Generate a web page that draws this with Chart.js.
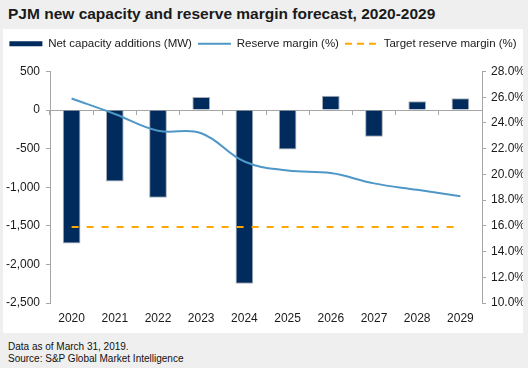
<!DOCTYPE html>
<html>
<head>
<meta charset="utf-8">
<script src="https://cdn.jsdelivr.net/npm/chart.js@4"></script>
<style>
  body { margin: 0; background: #efefef; width: 528px; height: 368px; overflow: hidden; font-family: "Liberation Sans", Arial, sans-serif; }
  #title { position: absolute; left: 8px; top: 5px; font-size: 15.5px; font-weight: bold; color: #1a1a1a; white-space: nowrap; }
  #panel { position: absolute; left: 3px; top: 29px; width: 520px; height: 304px; background: #fff; }
  #foot { position: absolute; left: 8px; top: 341px; font-size: 10px; line-height: 12px; color: #111; }
</style>
</head>
<body>
<div id="title">PJM new capacity and reserve margin forecast, 2020-2029</div>
<div id="panel"><canvas id="chart" width="520" height="304"></canvas></div>
<div id="foot">Data as of March 31, 2019.<br>Source: S&amp;P Global Market Intelligence</div>
<script>
// dados
const years = ['2020', '2021', '2022', '2023', '2024', '2025', '2026', '2027', '2028', '2029'];
const netCapacity = [-1730, -925, -1135, 170, -2250, -510, 187, -345, 114, 153];
const reserveMargin = [25.9, 24.7, 23.4, 23.2, 21.0, 20.3, 20.1, 19.3, 18.8, 18.3];
const targetMargin = [15.9, 15.9, 15.9, 15.9, 15.9, 15.9, 15.9, 15.9, 15.9, 15.9];

const axisGray = '#a6a6a6';
const tickFont = { family: '"Liberation Sans", Arial, sans-serif', size: 12 };

// espaço extra entre a legenda e a área do gráfico
const legendMargin = {
  id: 'legendMargin',
  beforeInit(chart) {
    const fit = chart.legend.fit;
    chart.legend.fit = function () {
      fit.bind(chart.legend)();
      this.height += 12;
    };
  }
};

const ctx = document.getElementById('chart').getContext('2d');
const chart = new Chart(ctx, {
  type: 'bar',
  data: {
    labels: years,
    datasets: [{
      type: 'bar',
      label: 'Net capacity additions (MW)',
      data: netCapacity,
      backgroundColor: '#002b5c',
      borderColor: '#a9aeb6',
      borderWidth: 1,
      categoryPercentage: 1,
      barPercentage: 0.41,
      pointStyle: 'rect',
      yAxisID: 'y',
      order: 2
    }, {
      type: 'line',
      label: 'Reserve margin (%)',
      data: reserveMargin,
      borderColor: '#4f97c7',
      backgroundColor: '#4f97c7',
      borderWidth: 2,
      pointRadius: 0,
      tension: 0.4,
      pointStyle: 'line',
      yAxisID: 'y2',
      order: 1
    }, {
      type: 'line',
      label: 'Target reserve margin (%)',
      data: targetMargin,
      borderColor: '#ffa600',
      backgroundColor: '#ffa600',
      borderWidth: 2,
      borderDash: [7, 8],
      pointRadius: 0,
      pointStyle: 'line',
      yAxisID: 'y2',
      order: 0
    }]
  },
  plugins: [legendMargin],
  options: {
    responsive: false,
    animation: false,
    layout: { padding: { top: 3, left: 0, right: 0, bottom: 0 } },
    plugins: {
      legend: {
        display: true,
        position: 'top',
        labels: {
          usePointStyle: true,
          pointStyleWidth: 33,
          boxHeight: 5,
          padding: 6,
          color: '#1a1a1a',
          font: { family: '"Liberation Sans", Arial, sans-serif', size: 11.5 },
          sort: (a, b) => a.datasetIndex - b.datasetIndex,
          // tracejado e espessura das linhas na legenda
          generateLabels: (chart) => Chart.defaults.plugins.legend.labels.generateLabels(chart).map(item => {
            const ds = chart.data.datasets[item.datasetIndex];
            if (ds.type === 'line') {
              item.lineDash = ds.borderDash ? [7, 5] : [];
              item.lineWidth = 2;
            } else {
              item.lineWidth = 0;
            }
            return item;
          })
        }
      },
      tooltip: { enabled: false }
    },
    scales: {
      x: {
        offset: true,
        grid: { display: false, drawTicks: false },
        border: { display: false },
        ticks: { color: '#1a1a1a', font: tickFont, padding: 8 },
        afterFit: (s) => { s.height = 30; }
      },
      x2: {
        type: 'category',
        position: { y: 0 },
        offset: true,
        grid: { offset: true, drawOnChartArea: false, drawTicks: true, tickLength: 4, color: axisGray },
        border: { display: true, color: axisGray },
        ticks: { display: false }
      },
      y: {
        position: 'left',
        min: -2500,
        max: 500,
        ticks: {
          stepSize: 500,
          color: '#1a1a1a',
          font: tickFont,
          padding: 6,
          callback: (v) => v.toLocaleString('en-US')
        },
        grid: { drawOnChartArea: false, drawTicks: true, tickLength: 4, color: axisGray },
        border: { color: axisGray },
        afterFit: (s) => { s.width = 47; }
      },
      y2: {
        position: 'right',
        min: 10,
        max: 28,
        ticks: {
          stepSize: 2,
          color: '#1a1a1a',
          font: tickFont,
          padding: 5,
          callback: (v) => v.toFixed(1) + '%'
        },
        grid: { drawOnChartArea: false, drawTicks: true, tickLength: 4, color: axisGray },
        border: { color: axisGray },
        afterFit: (s) => { s.width = 41; }
      }
    }
  }
});
</script>
</body>
</html>
